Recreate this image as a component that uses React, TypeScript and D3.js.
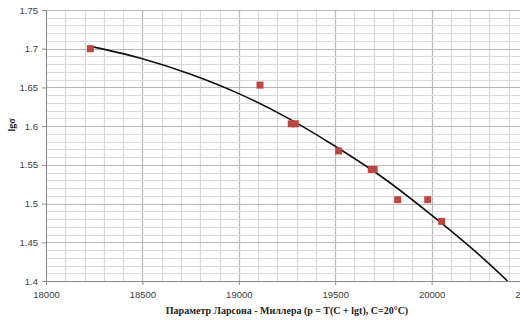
import React, { useEffect, useRef } from "react";
import * as d3 from "d3";

// measured points (Larson-Miller parameter, lg sigma)
const pointP = [18230, 19110, 19272, 19293, 19518, 19687, 19702, 19824, 19980, 20052];
const pointLg = [1.700, 1.653, 1.603, 1.603, 1.568, 1.544, 1.544, 1.505, 1.505, 1.477];

// trendline
const trendP = [18230, 18500, 18750, 19000, 19250, 19500, 19750, 20000, 20250, 20394];
const trendLg = [1.703, 1.687, 1.667, 1.642, 1.611, 1.574, 1.533, 1.485, 1.433, 1.4];

const xTicks = [18000, 18500, 19000, 19500, 20000, 20500];
const yTicks = [1.4, 1.45, 1.5, 1.55, 1.6, 1.65, 1.7, 1.75];

export default function App() {
  const ref = useRef<SVGSVGElement>(null);

  useEffect(() => {
    const width = 520;
    const height = 324;
    const margin = { top: 10, left: 46, bottom: 43, right: -8 };
    const iw = width - margin.left - margin.right;
    const ih = height - margin.top - margin.bottom;

    const svg = d3.select(ref.current);
    svg.selectAll("*").remove();
    svg.attr("width", width).attr("height", height);

    const g = svg
      .append("g")
      .attr("transform", `translate(${margin.left},${margin.top})`);

    const x = d3.scaleLinear().domain([18000, 20500]).range([0, iw]);
    const y = d3.scaleLinear().domain([1.4, 1.75]).range([ih, 0]);

    g.append("clipPath")
      .attr("id", "plotclip")
      .append("rect")
      .attr("width", iw)
      .attr("height", ih);

    // minor grid
    const xMinor = d3.range(18000, 20501, 100);
    const yMinor = d3.range(0, 36).map((i) => 1.4 + i * 0.01);
    g.selectAll(".vminor")
      .data(xMinor)
      .enter()
      .append("line")
      .attr("x1", (d) => Math.round(x(d)) + 0.5)
      .attr("x2", (d) => Math.round(x(d)) + 0.5)
      .attr("y1", 0)
      .attr("y2", ih)
      .attr("stroke", (d) => (d % 500 === 0 ? "#b8b8b8" : "#d9d9d9"))
      .attr("stroke-width", 1.2);
    g.selectAll(".hminor")
      .data(yMinor)
      .enter()
      .append("line")
      .attr("x1", 0)
      .attr("x2", iw)
      .attr("y1", (d) => Math.round(y(d)) + 0.5)
      .attr("y2", (d) => Math.round(y(d)) + 0.5)
      .attr("stroke", (_, i) => (i % 5 === 0 ? "#b8b8b8" : "#d9d9d9"))
      .attr("stroke-width", 1.2);

    // axes
    const xAxis = g
      .append("g")
      .attr("transform", `translate(0,${ih})`)
      .call(d3.axisBottom(x).tickValues(xTicks).tickSize(4).tickPadding(6).tickFormat(d3.format("d")));
    const yAxis = g
      .append("g")
      .call(d3.axisLeft(y).tickValues(yTicks).tickSize(4).tickPadding(4).tickFormat((d) => String(+d)));
    [xAxis, yAxis].forEach((a) => {
      a.select(".domain").attr("stroke", "#8c8c8c");
      a.selectAll(".tick line").attr("stroke", "#8c8c8c");
      a.selectAll("text")
        .attr("fill", "#404040")
        .style("font-family", "'Liberation Sans', Arial, sans-serif")
        .style("font-size", "9.5px");
    });

    // trendline
    const line = d3
      .line<number>()
      .x((d, i) => x(trendP[i]))
      .y((d) => y(d))
      .curve(d3.curveMonotoneX);
    g.append("path")
      .datum(trendLg)
      .attr("d", line)
      .attr("fill", "none")
      .attr("stroke", "#111")
      .attr("stroke-width", 1.6)
      .attr("clip-path", "url(#plotclip)");

    // points
    g.selectAll(".pt")
      .data(pointLg)
      .enter()
      .append("rect")
      .attr("x", (d, i) => x(pointP[i]) - 3.5)
      .attr("y", (d) => y(d) - 3.5)
      .attr("width", 7)
      .attr("height", 7)
      .attr("fill", "#bb4743");

    // titles
    svg
      .append("text")
      .attr("x", 287)
      .attr("y", 314)
      .attr("text-anchor", "middle")
      .style("font-family", "'Liberation Serif', 'Times New Roman', serif")
      .style("font-weight", "bold")
      .style("font-size", "10px")
      .attr("fill", "#222")
      .text("Параметр Ларсона - Миллера (p = T(C + lgt), C=20°C)");

    svg
      .append("text")
      .attr("transform", "translate(15,125) rotate(-90)")
      .attr("text-anchor", "middle")
      .style("font-family", "'Liberation Serif', 'Times New Roman', serif")
      .style("font-weight", "bold")
      .style("font-size", "10px")
      .attr("fill", "#222")
      .text("lgσ");
  }, []);

  return (
    <div style={{ position: "absolute", left: 0, top: 0 }}>
      <svg ref={ref} style={{ display: "block", background: "#fff" }}></svg>
    </div>
  );
}
